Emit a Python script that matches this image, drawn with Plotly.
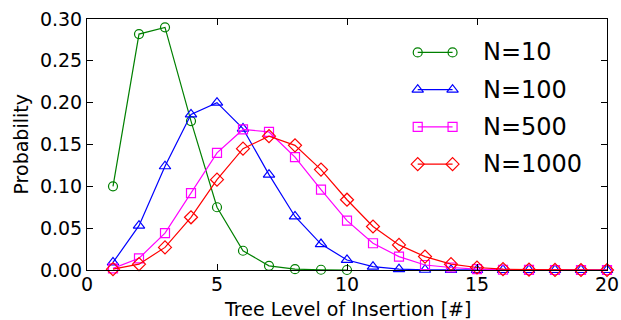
import plotly.graph_objects as go

# ---- data ----
levels_10 = list(range(1, 11))
prob_10 = [0.100, 0.282, 0.290, 0.178, 0.075, 0.023, 0.005, 0.001, 0.0003, 0.0]

levels = list(range(1, 21))
prob_100 = [0.009, 0.053, 0.124, 0.186, 0.200, 0.169, 0.114, 0.064, 0.031, 0.012,
            0.004, 0.001, 0.0003, 0.0001, 0, 0, 0, 0, 0, 0]
prob_500 = [0.002, 0.014, 0.044, 0.092, 0.140, 0.168, 0.165, 0.135, 0.096, 0.059,
            0.032, 0.016, 0.006, 0.003, 0.001, 0.0003, 0.0001, 0, 0, 0]
prob_1000 = [0.001, 0.007, 0.027, 0.063, 0.108, 0.145, 0.160, 0.149, 0.120, 0.084,
             0.052, 0.030, 0.016, 0.007, 0.003, 0.001, 0.0004, 0.0001, 0, 0]

series_names = ["N=10", "N=100", "N=500", "N=1000"]
series_x = [levels_10, levels, levels, levels]
series_y = [prob_10, prob_100, prob_500, prob_1000]
colors = ["#008000", "#0000ff", "#ff00ff", "#ff0000"]
symbols = ["circle-open", "triangle-up-open", "square-open", "diamond-open"]
sizes = [9, 10, 9, 10]

x_ticks = [0, 5, 10, 15, 20]
y_ticks = [0.00, 0.05, 0.10, 0.15, 0.20, 0.25, 0.30]
x_title = "Tree Level of Insertion [#]"
y_title = "Probability"

FONT = "DejaVu Sans"

fig = go.Figure()
for name, xs, ys, c, s, sz in zip(series_names, series_x, series_y, colors, symbols, sizes):
    fig.add_trace(go.Scatter(
        x=xs, y=ys, mode="lines+markers", name=name,
        line=dict(color=c, width=1.2),
        marker=dict(symbol=s, size=sz, color=c, line=dict(color=c, width=1.2)),
        showlegend=False, cliponaxis=False,
    ))

# ---- custom legend (matplotlib style: two markers per sample) ----
leg_top = 0.867
leg_step = 0.1485
leg_x0, leg_x1, leg_text_x = 0.636, 0.703, 0.758
for i, (name, c, s, sz) in enumerate(zip(series_names, colors, symbols, sizes)):
    yy = leg_top - i * leg_step
    fig.add_trace(go.Scatter(
        x=[leg_x0, leg_x1], y=[yy, yy], xaxis="x2", yaxis="y2",
        mode="lines+markers", line=dict(color=c, width=1.2),
        marker=dict(symbol=s, size=sz, color=c, line=dict(color=c, width=1.2)),
        showlegend=False, hoverinfo="skip",
    ))
    fig.add_annotation(x=leg_text_x, y=yy, xref="paper", yref="paper",
                       text=name, showarrow=False, xanchor="left", yanchor="middle",
                       font=dict(family=FONT, size=24, color="black"))

# axis titles as annotations for precise placement
fig.add_annotation(x=0.5, y=0, xref="paper", yref="paper", text=x_title,
                   showarrow=False, xanchor="center", yanchor="top", yshift=-26,
                   font=dict(family=FONT, size=19, color="black"))
fig.add_annotation(x=0, y=0.5, xref="paper", yref="paper", text=y_title,
                   showarrow=False, xanchor="center", yanchor="middle", xshift=-67,
                   textangle=-90, font=dict(family=FONT, size=19, color="black"))

axis_common = dict(
    showline=True, linecolor="black", linewidth=1, mirror="ticks",
    ticks="inside", ticklen=6, tickwidth=1, tickcolor="black",
    showgrid=False, zeroline=False, automargin=False,
    tickfont=dict(family=FONT, size=19, color="black"),
)

fig.update_layout(
    width=621, height=320,
    margin=dict(l=87, r=14, t=19, b=50, autoexpand=False),
    paper_bgcolor="white", plot_bgcolor="white",
    xaxis=dict(range=[0, 20], tickvals=x_ticks, ticktext=[str(t) for t in x_ticks],
               ticklabelstandoff=-3, **axis_common),
    yaxis=dict(range=[0, 0.30], tickvals=y_ticks, ticktext=[f"{t:.2f}" for t in y_ticks],
               **axis_common),
    xaxis2=dict(overlaying="x", range=[0, 1], visible=False, anchor="y2"),
    yaxis2=dict(overlaying="y", range=[0, 1], visible=False, anchor="x2"),
    showlegend=False,
)

fig.write_html("out.html")
